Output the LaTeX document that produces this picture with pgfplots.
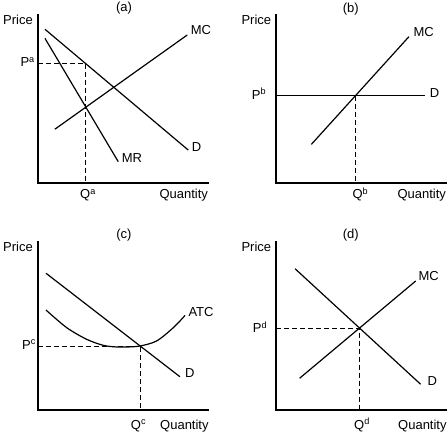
\documentclass[border=0pt]{standalone}
\usepackage{pgfplots}
\pgfplotsset{compat=1.18}
\usepackage{fontspec}
\setmainfont{Liberation Sans}
\pgfplotsset{panel/.style={scale only axis, width=170pt, height=168pt,
  xmin=0,xmax=10,ymin=0,ymax=10, axis lines=left,
  axis line style={-, line width=2pt, line cap=rect},
  xtick=\empty, ytick=\empty, clip=false, anchor=south west}}
\tikzset{crv/.style={black, line width=1.2pt}, dsh/.style={black, line width=1pt, dash pattern=on 5pt off 3pt}}
\begin{document}
\begin{tikzpicture}[x=1pt,y=1pt,every node/.style={font=\fontsize{13}{15}\selectfont, inner sep=0pt}]
\useasboundingbox (0,0) rectangle (448,432);
% (a)
\begin{axis}[panel, at={(38pt,249pt)}]
\addplot[crv] coordinates {(0.41,9.15) (8.84,1.96)};
\addplot[crv] coordinates {(0.41,8.61) (4.72,1.27)};
\addplot[crv] coordinates {(0.99,3.2) (8.78,8.81)};
\addplot[dsh] coordinates {(0,7.1) (2.82,7.1) (2.82,0)};
\end{axis}
% (b)
\begin{axis}[panel, at={(276pt,249pt)}]
\addplot[crv] coordinates {(0,5.2) (8.76,5.2)};
\addplot[crv] coordinates {(2.08,2.30) (7.82,8.71)};
\addplot[dsh] coordinates {(4.68,5.2) (4.68,0)};
\end{axis}
% (c)
\begin{axis}[panel, at={(38pt,22pt)}]
\addplot[crv] coordinates {(0.47,8.14) (8.35,1.98)};
\addplot[crv, smooth] coordinates {(0.47,5.95) (1.69,4.90) (2.86,4.21) (3.84,3.85) (4.63,3.75) (5.22,3.75) (6.0,3.81) (6.98,4.11) (7.96,4.90) (8.65,5.63)};
\addplot[dsh] coordinates {(0,3.8) (6.04,3.8) (6.04,0)};
\end{axis}
% (d)
\begin{axis}[panel, at={(276pt,22pt)}]
\addplot[crv] coordinates {(1.12,8.41) (8.51,1.53)};
\addplot[crv] coordinates {(1.39,1.89) (8.22,7.68)};
\addplot[dsh] coordinates {(0,4.85) (4.94,4.85) (4.94,0)};
\end{axis}
% labels (a)
\node at (124,423.7) {(a)};
\node[anchor=base west] at (3,407) {Price};
\node[anchor=base east] at (35,365.3) {P\textsuperscript{a}};
\node[anchor=base west] at (190.7,397.7) {MC};
\node[anchor=base west] at (191.7,280.3) {D};
\node[anchor=base west] at (121.7,269.7) {MR};
\node[anchor=base west] at (80,233) {Q\textsuperscript{a}};
\node[anchor=base west] at (159.3,233) {Quantity};
% labels (b)
\node at (350.7,422.7) {(b)};
\node[anchor=base west] at (241.3,407) {Price};
\node[anchor=base east] at (266.3,332.7) {P\textsuperscript{b}};
\node[anchor=base west] at (413.3,395.3) {MC};
\node[anchor=base west] at (429.7,334.7) {D};
\node[anchor=base west] at (352.3,233) {Q\textsuperscript{b}};
\node[anchor=base west] at (397.3,233) {Quantity};
% labels (c)
\node at (124,196.7) {(c)};
\node[anchor=base west] at (3,180) {Price};
\node[anchor=base east] at (36,82.7) {P\textsuperscript{c}};
\node[anchor=base west] at (188.3,115) {ATC};
\node[anchor=base west] at (185,54.3) {D};
\node[anchor=base west] at (130.7,3) {Q\textsuperscript{c}};
\node[anchor=base west] at (160,3) {Quantity};
% labels (d)
\node at (350.7,196.7) {(d)};
\node[anchor=base west] at (241.3,180) {Price};
\node[anchor=base east] at (267.3,99.3) {P\textsuperscript{d}};
\node[anchor=base west] at (418.3,151) {MC};
\node[anchor=base west] at (427.3,46) {D};
\node[anchor=base west] at (354,3) {Q\textsuperscript{d}};
\node[anchor=base west] at (398,3) {Quantity};
\end{tikzpicture}
\end{document}
